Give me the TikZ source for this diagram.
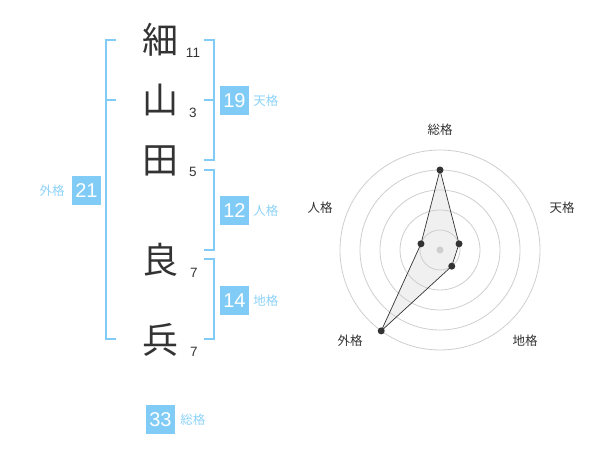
\documentclass[tikz,border=0pt]{standalone}
\usepackage{fontspec}
\setmainfont{Liberation Sans}
\newfontfamily\jpfont{Noto Sans CJK JP}
\usetikzlibrary{positioning}
\definecolor{kakublue}{RGB}{128,204,247}
\definecolor{kakulabel}{RGB}{140,210,248}
\definecolor{inkgray}{RGB}{51,51,51}
\definecolor{ringgray}{RGB}{206,206,206}
\definecolor{areagray}{RGB}{240,240,240}

\begin{document}
\begin{tikzpicture}[x=1pt, y=1pt]
\useasboundingbox (0,0) rectangle (600,470);
% name characters
\begin{scope}[every node/.style={inner sep=0pt, text=inkgray,
    font=\jpfont\fontsize{36}{36}\selectfont}]
    \node (c1) at (160,430) {細};
    \node (c2) at (160,370) {山};
    \node (c3) at (160,309) {田};
    \node (c4) at (160,210) {良};
    \node (c5) at (160,130) {兵};
\end{scope}

\begin{scope}[every node/.style={inner sep=0pt, text=inkgray,
    font=\fontsize{13.5}{14}\selectfont}]
    \node (s1) at (193,417) {11};
    \node (s2) at (193,357) {3};
    \node (s3) at (193,298) {5};
    \node (s4) at (194,197) {7};
    \node (s5) at (194,118) {7};
\end{scope}

% brackets
\begin{scope}[line width=2pt, kakublue]
    \draw (116,430) -- (106,430) -- (106,131) -- (116,131);
    \draw (106,370) -- (116,370);
    \draw (204,430) -- (214,430) -- (214,310) -- (204,310);
    \draw (204,370) -- (214,370);
    \draw (204,300) -- (214,300) -- (214,220) -- (204,220);
    \draw (204,211) -- (214,211) -- (214,131) -- (204,131);
\end{scope}

\begin{scope}[every node/.style={fill=kakublue, text=white,
    minimum size=29pt, inner sep=0pt, font=\fontsize{20}{20}\selectfont}]
    \node (ten) at (234.5,369.5) {19};
    \node (jin) at (234.5,259) {12};
    \node (chi) at (234.5,169) {14};
    \node (gai) at (86.5,279.5) {21};
    \node (sou) at (160.5,50.5) {33};
\end{scope}

\begin{scope}[every node/.style={text=kakulabel, inner sep=0pt,
    font=\jpfont\fontsize{12.5}{13}\selectfont}]
    \node[right=4pt of ten] (tenl) {天格};
    \node[right=4pt of jin] (jinl) {人格};
    \node[right=4pt of chi] (chil) {地格};
    \node[left=7pt of gai] (gail) {外格};
    \node[right=5pt of sou] (soul) {総格};
\end{scope}

% radar chart
\coordinate (o) at (440,220);
\coordinate (psou) at ([shift={(90:80)}]o);
\coordinate (pten) at ([shift={(18:20)}]o);
\coordinate (pchi) at ([shift={(-54:20)}]o);
\coordinate (pgai) at ([shift={(-126:100)}]o);
\coordinate (pjin) at ([shift={(162:20)}]o);
\fill[areagray] (psou) -- (pten) -- (pchi) -- (pgai) -- (pjin) -- cycle;
\foreach \r in {20,40,...,100}
    \draw[ringgray, line width=0.8pt] (o) circle (\r pt);
\fill[ringgray] (o) circle (3.5pt);
\draw[inkgray, line width=0.7pt] (psou) -- (pten) -- (pchi) -- (pgai) -- (pjin) -- cycle;
\foreach \p in {psou,pten,pchi,pgai,pjin}
    \fill[inkgray] (\p) circle (3.5pt);

\begin{scope}[every node/.style={text=inkgray, inner sep=0pt,
    font=\jpfont\fontsize{12.5}{13}\selectfont}]
    \node (rsou) at (440,340) {総格};
    \node (rten) at (562,262) {天格};
    \node (rchi) at (525,129) {地格};
    \node (rgai) at (350,129) {外格};
    \node (rjin) at (320,262) {人格};
\end{scope}
\end{tikzpicture}
\end{document}
